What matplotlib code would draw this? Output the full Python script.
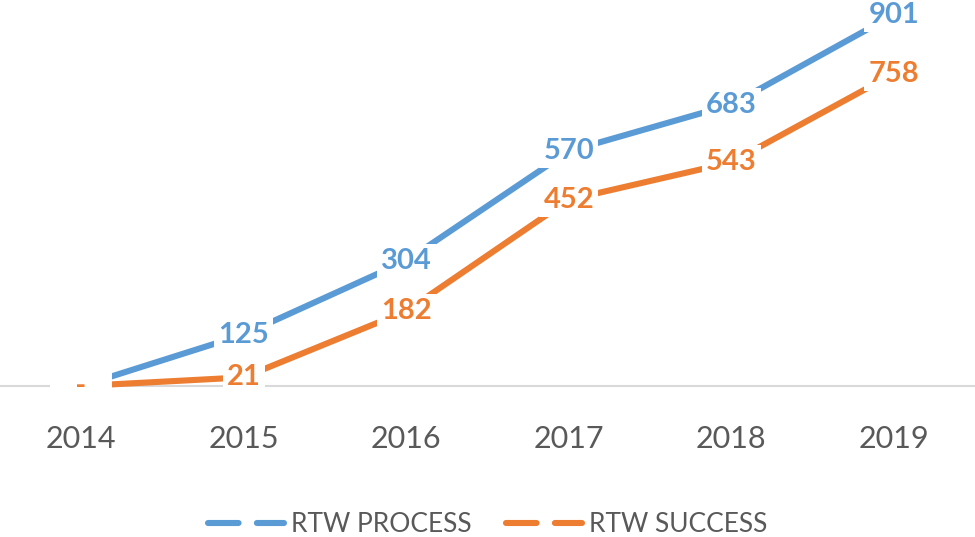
import matplotlib.pyplot as plt
from matplotlib.lines import Line2D

plt.rcParams['font.family'] = ['Lato', 'DejaVu Sans']

years = ['2014', '2015', '2016', '2017', '2018', '2019']
rtw_process = [0, 125, 304, 570, 683, 901]
rtw_success = [0, 21, 182, 452, 543, 758]

blue = '#5B9BD5'
orange = '#ED7D31'
grey_txt = '#595959'

fig = plt.figure(figsize=(9.75, 5.37), dpi=100)
ax = fig.add_axes([0, 1 - 386 / 537, 1, 386 / 537])

x = list(range(len(years)))
ax.plot(x, rtw_process, color=blue, lw=4.4, solid_capstyle='butt', zorder=3, clip_on=False)
ax.plot(x, rtw_success, color=orange, lw=4.4, solid_capstyle='butt', zorder=3, clip_on=False)

def lab(v):
    # excel accounting format shows zero as a dash
    return '   -   ' if v == 0 else str(v)

for xi, v in zip(x, rtw_process):
    ax.text(xi, v, lab(v), color=blue, fontsize=21, fontweight='bold', ha='center', va='center',
            zorder=5, bbox=dict(facecolor='white', edgecolor='none', pad=3))
for xi, v in zip(x, rtw_success):
    ax.text(xi, v, lab(v), color=orange, fontsize=21, fontweight='bold', ha='center', va='center',
            zorder=6, bbox=dict(facecolor='white', edgecolor='none', pad=3))

ax.set_xlim(-0.5, 5.5)
ax.set_ylim(0, 937)
ax.set_xticks(x)
ax.set_xticklabels(years, fontsize=22, color=grey_txt)
ax.tick_params(axis='x', length=0, pad=28)
ax.set_yticks([])
for s in ['top', 'right', 'left']:
    ax.spines[s].set_visible(False)
ax.spines['bottom'].set_color('#D9D9D9')
ax.spines['bottom'].set_linewidth(1.5)
ax.spines['bottom'].set_zorder(1)

handles = [Line2D([], [], color=blue, lw=4.4, dashes=(5, 3), dash_capstyle='round'),
           Line2D([], [], color=orange, lw=4.4, dashes=(5, 3), dash_capstyle='round')]
fig.legend(handles, ['RTW PROCESS', 'RTW SUCCESS'], loc='center', bbox_to_anchor=(0.5, 1 - 525 / 537),
           ncol=2, frameon=False, fontsize=19, labelcolor=grey_txt, handlelength=2.9,
           handletextpad=0.25, columnspacing=1.3)

fig.savefig('out.png', dpi=100)
